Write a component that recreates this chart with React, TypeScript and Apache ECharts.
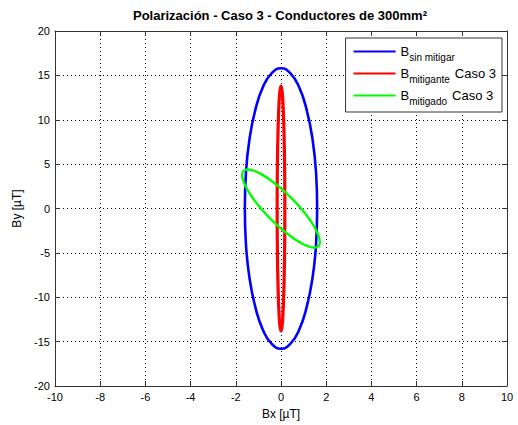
import React, { useEffect, useRef } from "react";
import * as echarts from "echarts";

// Points (Bx, By) in µT
const bSinMitigar: [number, number][] = [
  [1.6, 0], [1.55, 4.09], [1.39, 7.9], [1.13, 11.17], [0.8, 13.68], [0.41, 15.26], [0, 15.8],
  [-0.41, 15.26], [-0.8, 13.68], [-1.13, 11.17], [-1.39, 7.9], [-1.55, 4.09], [-1.6, 0],
  [-1.55, -4.09], [-1.39, -7.9], [-1.13, -11.17], [-0.8, -13.68], [-0.41, -15.26], [0, -15.8],
  [0.41, -15.26], [0.8, -13.68], [1.13, -11.17], [1.39, -7.9], [1.55, -4.09], [1.6, 0],
];

const bMitigante: [number, number][] = [
  [0.17, 0], [0.164, 3.57], [0.147, 6.9], [0.12, 9.76], [0.085, 11.95], [0.044, 13.33], [0, 13.8],
  [-0.044, 13.33], [-0.085, 11.95], [-0.12, 9.76], [-0.147, 6.9], [-0.164, 3.57], [-0.17, 0],
  [-0.164, -3.57], [-0.147, -6.9], [-0.12, -9.76], [-0.085, -11.95], [-0.044, -13.33], [0, -13.8],
  [0.044, -13.33], [0.085, -11.95], [0.12, -9.76], [0.147, -6.9], [0.164, -3.57], [0.17, 0],
];

const bMitigado: [number, number][] = [
  [1.72, -3.77], [1.661, -3.06], [1.49, -2.13], [1.216, -1.06], [0.86, 0.077], [0.445, 1.21],
  [0, 2.27], [-0.445, 3.16], [-0.86, 3.85], [-1.216, 4.27], [-1.49, 4.4], [-1.661, 4.23],
  [-1.72, 3.77], [-1.661, 3.06], [-1.49, 2.13], [-1.216, 1.06], [-0.86, -0.077], [-0.445, -1.21],
  [0, -2.27], [0.445, -3.16], [0.86, -3.85], [1.216, -4.27], [1.49, -4.4], [1.661, -4.23],
  [1.72, -3.77],
];

const seriesNames = ["B sin mitigar", "B mitigante Caso 3", "B mitigado Caso 3"];
const legendMain = ["B", "B", "B"];
const legendSub = ["sin mitigar", "mitigante", "mitigado"];
const legendTail = ["", "Caso 3", "Caso 3"];
const seriesColors = ["#0000ff", "#ff0000", "#00ff00"];

const xTicks = { min: -10, max: 10, interval: 2 };
const yTicks = { min: -20, max: 20, interval: 5 };

const titleText = "Polarización - Caso 3 - Conductores de 300mm²";
const xName = "Bx [µT]";
const yName = "By [µT]";

const FONT = "'Liberation Sans', Arial, Helvetica, sans-serif";

export default function App() {
  const ref = useRef<HTMLDivElement>(null);
  useEffect(() => {
    if (!ref.current) return;
    const chart = echarts.init(ref.current, null, { renderer: "svg" });
    const axisLine = { show: true, onZero: false, lineStyle: { color: "#333", width: 1 } };
    const tick = { show: true, inside: true, length: 5, lineStyle: { color: "#333" } };
    const option: any = {
      animation: false,
      backgroundColor: "#fff",
      textStyle: { fontFamily: FONT },
      grid: { left: 55, right: 11, top: 31, bottom: 38, containLabel: false },
      graphic: [
        {
          type: "text",
          x: 280,
          y: 15,
          style: {
            text: titleText,
            align: "center",
            verticalAlign: "middle",
            fontFamily: FONT,
            fontWeight: "bold",
            fontSize: 13,
            fill: "#000",
          },
        },
      ],
      legend: {
        orient: "vertical",
        right: 16,
        top: 38,
        padding: [7, 6, 6, 8],
        itemGap: 5,
        itemWidth: 42,
        itemHeight: 2,
        icon: "rect",
        backgroundColor: "#fff",
        borderColor: "#333",
        borderWidth: 1,
        data: seriesNames,
        formatter: (name: string) => {
          const i = seriesNames.indexOf(name);
          const tail = legendTail[i] ? "{c|" + legendTail[i] + "}" : "";
          return "{b|" + legendMain[i] + "}{s|" + legendSub[i] + "}" + tail;
        },
        textStyle: {
          fontFamily: FONT,
          color: "#000",
          rich: {
            b: { fontSize: 13, fontFamily: FONT, color: "#000" },
            s: { fontSize: 10, fontFamily: FONT, color: "#000", padding: [11, 0, 0, 0] },
            c: { fontSize: 13, fontFamily: FONT, color: "#000", padding: [0, 0, 0, 5] },
          },
        },
      },
      xAxis: [
        {
          type: "value",
          min: xTicks.min,
          max: xTicks.max,
          interval: xTicks.interval,
          position: "bottom",
          name: xName,
          nameLocation: "middle",
          nameGap: 22,
          nameTextStyle: { fontFamily: FONT, fontSize: 12, color: "#000" },
          axisLine,
          axisTick: tick,
          axisLabel: { fontFamily: FONT, fontSize: 11, color: "#000", margin: 5 },
          splitLine: { show: true, lineStyle: { type: [1, 3], color: "#000", width: 1 } },
        },
        {
          type: "value",
          min: xTicks.min,
          max: xTicks.max,
          interval: xTicks.interval,
          position: "top",
          axisLine,
          axisTick: tick,
          axisLabel: { show: false },
          splitLine: { show: false },
        },
      ],
      yAxis: [
        {
          type: "value",
          min: yTicks.min,
          max: yTicks.max,
          interval: yTicks.interval,
          position: "left",
          name: yName,
          nameLocation: "middle",
          nameGap: 30,
          nameRotate: 90,
          nameTextStyle: { fontFamily: FONT, fontSize: 12, color: "#000" },
          axisLine,
          axisTick: tick,
          axisLabel: { fontFamily: FONT, fontSize: 11, color: "#000", margin: 5 },
          splitLine: { show: true, lineStyle: { type: [1, 3], color: "#000", width: 1 } },
        },
        {
          type: "value",
          min: yTicks.min,
          max: yTicks.max,
          interval: yTicks.interval,
          position: "right",
          axisLine,
          axisTick: tick,
          axisLabel: { show: false },
          splitLine: { show: false },
        },
      ],
      series: [
        { data: bSinMitigar, width: 2.6 },
        { data: bMitigante, width: 3.2 },
        { data: bMitigado, width: 2.4 },
      ].map((s, i) => ({
        name: seriesNames[i],
        type: "line",
        xAxisIndex: 0,
        yAxisIndex: 0,
        data: s.data,
        smooth: true,
        symbol: "none",
        showSymbol: false,
        color: seriesColors[i],
        lineStyle: { color: seriesColors[i], width: s.width },
      })),
    };
    chart.setOption(option);
    return () => chart.dispose();
  }, []);
  return (
    <div
      ref={ref}
      style={{ position: "fixed", left: 0, top: 0, width: 518, height: 425, background: "#fff" }}
    />
  );
}
